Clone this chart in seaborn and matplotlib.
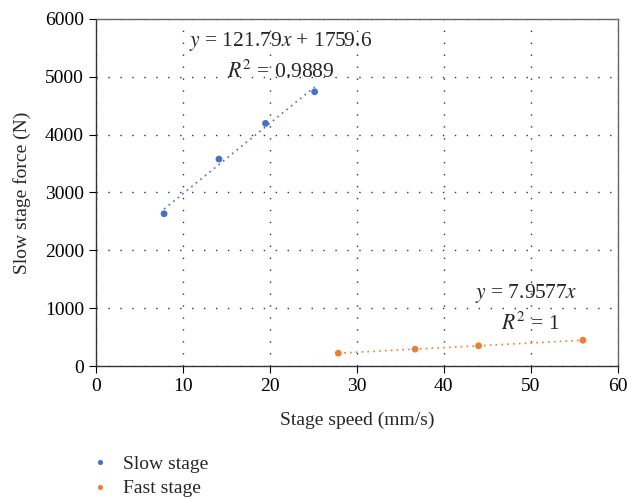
import numpy as np
import pandas as pd
import matplotlib
matplotlib.use("Agg")
import matplotlib.pyplot as plt
import seaborn as sns

# data
slow_speed = [7.84, 14.15, 19.5, 25.15]
slow_force = [2632, 3577, 4194, 4741]
fast_speed = [27.87, 36.7, 44.0, 56.0]
fast_force = [222, 292, 350, 446]

# trend line coefficients printed on the chart
slow_fit = (121.79, 1759.6)
fast_fit = (7.9577, 0.0)

blue = "#4472C4"
orange = "#ED7D31"

sns.set_style("white")
plt.rcParams["font.family"] = ["Liberation Serif", "DejaVu Serif"]
plt.rcParams["mathtext.fontset"] = "stix"

df = pd.DataFrame({
    "speed": slow_speed + fast_speed,
    "force": slow_force + fast_force,
    "stage": ["Slow stage"] * len(slow_speed) + ["Fast stage"] * len(fast_speed),
})

fig = plt.figure(figsize=(6.31, 4.98), dpi=100)
ax = fig.add_axes([0.152, 0.265, 0.827, 0.697])

sns.scatterplot(data=df, x="speed", y="force", hue="stage",
                palette={"Slow stage": blue, "Fast stage": orange},
                s=24, edgecolor="none", ax=ax, zorder=3)

# dotted trend lines over each data range
for xs, (m, b), c in [(slow_speed, slow_fit, blue), (fast_speed, fast_fit, orange)]:
    xx = np.array([min(xs), max(xs)])
    ax.plot(xx, m * xx + b, linestyle=(0, (1, 2.5)), color=c, lw=1.2, zorder=2)

ax.set_xlim(0, 60)
ax.set_ylim(0, 6000)
ax.set_xticks(range(0, 61, 10))
ax.set_yticks(range(0, 6001, 1000))
ax.grid(True, linestyle=(0, (1, 7.6)), color="#333333", lw=1.0)
for sp in ax.spines.values():
    sp.set_color("#333333")
    sp.set_linewidth(1.0)
ax.spines["top"].set_color("#666666")
ax.spines["right"].set_color("#666666")
ax.tick_params(axis="both", direction="out", length=5, width=0.8,
               labelsize=14, colors="black", left=True, bottom=True)

ax.set_xlabel("Stage speed (mm/s)", fontsize=14, labelpad=12)
ax.set_ylabel("Slow stage force (N)", fontsize=14, labelpad=10)

ax.text(21.2, 5610, r"$y$ = 121.79$x$ + 1759.6", fontsize=15.5, ha="center", va="center")
ax.text(21.2, 5080, r"$R^2$ = 0.9889", fontsize=15.5, ha="center", va="center")
ax.text(49.5, 1250, r"$y$ = 7.9577$x$", fontsize=15.5, ha="center", va="center")
ax.text(50.0, 740, r"$R^2$ = 1", fontsize=15.5, ha="center", va="center")

handles, labels = ax.get_legend_handles_labels()
ax.legend(handles, labels, loc="upper left", bbox_to_anchor=(-0.03, -0.235),
          frameon=False, fontsize=14, handlelength=1.2, handletextpad=0.6,
          labelspacing=0.35, markerscale=0.75, borderaxespad=0)

fig.savefig("out.png", dpi=100)
